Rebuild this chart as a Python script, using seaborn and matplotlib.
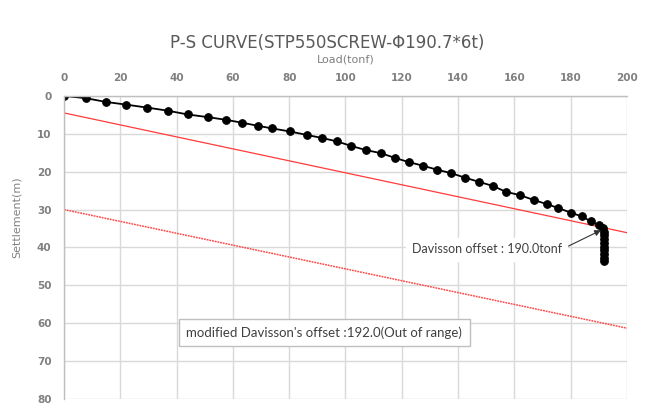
import matplotlib
matplotlib.use("Agg")
import matplotlib.pyplot as plt
import seaborn as sns
import pandas as pd

# Load test readings
loads = [0, 7.7, 14.9, 22, 29.6, 36.8, 43.9, 51, 57.4, 63.4, 68.9, 74, 80.3, 86.2, 91.6, 96.9,
         102, 107.2, 112.5, 117.7, 122.6, 127.4, 132.6, 137.6, 142.5, 147.5, 152.5, 156.9, 162,
         167, 171.7, 175.6, 180, 183.9, 187.2, 190.2, 191.6,
         191.8, 191.8, 191.8, 191.8, 191.8, 191.8, 191.8, 191.8, 191.8]
settlements = [0, 0.6, 1.6, 2.3, 3.1, 3.9, 4.9, 5.6, 6.3, 7.1, 7.9, 8.6, 9.4, 10.3, 11.1, 12.0,
               13.2, 14.3, 15.1, 16.4, 17.5, 18.4, 19.5, 20.4, 21.6, 22.7, 23.8, 25.3, 26.2,
               27.5, 28.6, 29.6, 30.8, 31.8, 33.1, 34.2, 34.8,
               35.8, 36.8, 37.8, 38.8, 39.8, 40.8, 41.8, 42.8, 43.6]

# Offset lines
offset_x = [0, 200]
davisson_y = [4.5, 36.1]
modified_y = [30, 61.3]

x_ticks = list(range(0, 201, 20))
y_ticks = list(range(0, 81, 10))

df = pd.DataFrame({"load": loads, "settlement": settlements})

sns.set_style("white")
plt.rcParams['font.family'] = ['DejaVu Sans']

fig = plt.figure(figsize=(6.47, 4.08), dpi=100)
ax = fig.add_axes([0.099, 0.022, 0.87, 0.743])

grey = "#808080"

sns.lineplot(x=offset_x, y=davisson_y, ax=ax, color="#ff3b3b", linewidth=0.9)
sns.lineplot(x=offset_x, y=modified_y, ax=ax, color="#ff4a4a", linewidth=1.1, linestyle=(0, (1.2, 0.6)))
sns.lineplot(data=df, x="load", y="settlement", ax=ax, sort=False, color="black", linewidth=1.3,
             marker="o", markersize=5.5, markeredgecolor="black", estimator=None)

ax.set_xlim(0, 200)
ax.set_ylim(80, 0)
ax.set_xticks(x_ticks)
ax.set_yticks(y_ticks)
ax.xaxis.tick_top()
ax.xaxis.set_label_position("top")
ax.grid(True, color="#d9d9d9", linewidth=1)
ax.set_axisbelow(True)
for side in ["right", "bottom"]:
    ax.spines[side].set_visible(False)
for side in ["left", "top"]:
    ax.spines[side].set_color("#bfbfbf")
    ax.spines[side].set_linewidth(1)
ax.tick_params(length=0, labelsize=7.5, labelcolor=grey, pad=9)
for lab in ax.get_xticklabels() + ax.get_yticklabels():
    lab.set_fontweight("bold")

ax.set_xlabel("Load(tonf)", fontsize=8, color=grey, labelpad=8)
ax.set_ylabel("Settlement(m)", fontsize=8, color=grey)
ax.yaxis.set_label_coords(-0.075, 0.6)

fig.text(0.505, 0.895, "P-S CURVE(STP550SCREW-\u03a6190.7*6t)", ha="center", va="center",
         fontsize=12, color="#595959")

# Annotations
ax.annotate("Davisson offset : 190.0tonf", xy=(191.2, 35.3), xytext=(123.5, 40.5),
            fontsize=9, color="#404040", family=["Lato", "DejaVu Sans"], va="center",
            bbox=dict(boxstyle="square,pad=0.45", fc="white", ec="white"),
            arrowprops=dict(arrowstyle="-|>", color="#333333", lw=0.8, relpos=(1.0, 0.5),
                            shrinkA=0, shrinkB=1))

ax.text(43.5, 62.5, "modified Davisson's offset :192.0(Out of range)", fontsize=9.5,
        color="#404040", family=["Lato", "DejaVu Sans"], va="center",
        bbox=dict(boxstyle="square,pad=0.55", fc="white", ec="#bfbfbf", lw=1))

fig.savefig("out.png", dpi=100)
